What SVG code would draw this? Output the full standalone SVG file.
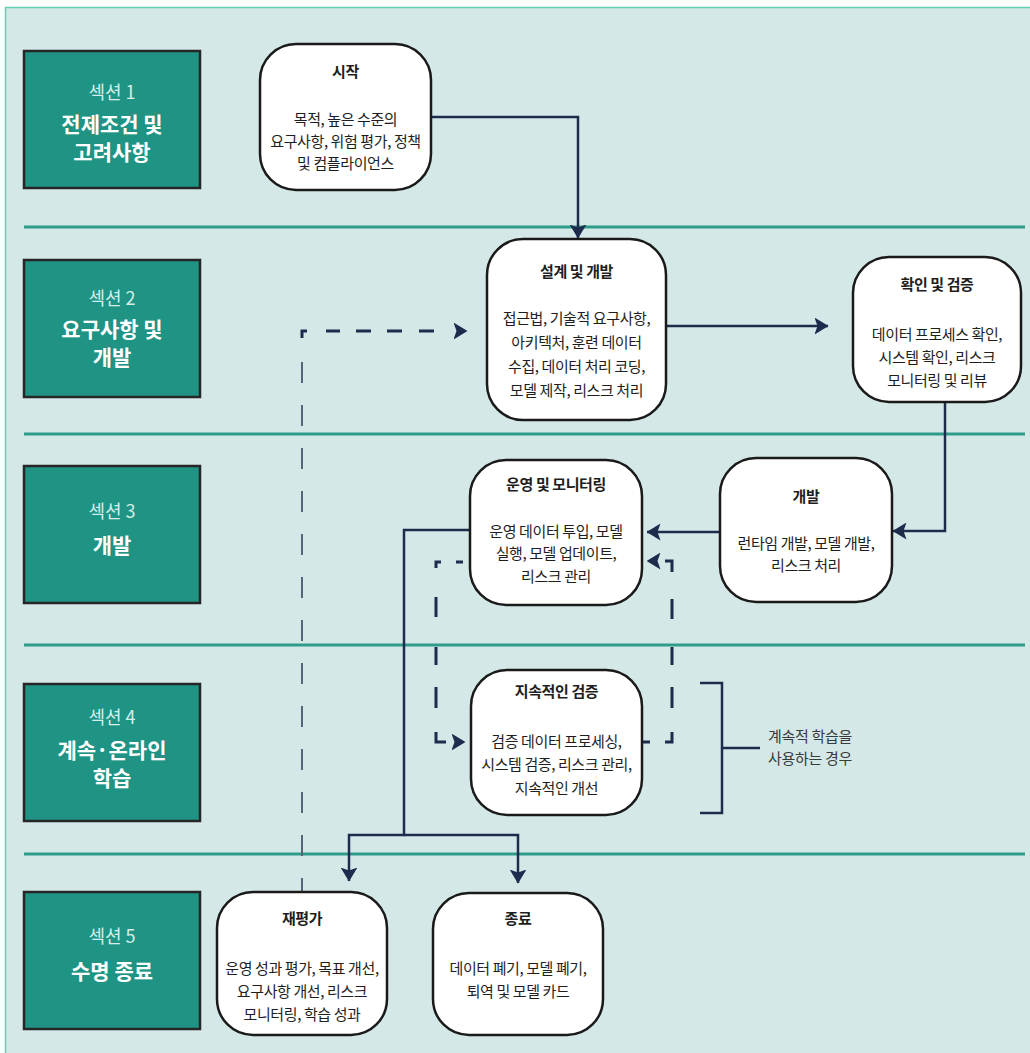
<svg xmlns="http://www.w3.org/2000/svg" width="1030" height="1053" viewBox="0 0 1030 1053">
<style>
.bg{fill:#d4e9e7;stroke:#63cfb3;stroke-width:1.5}
.sep{stroke:#2f9b8b;stroke-width:3;fill:none}
.sec{fill:#1f9484;stroke:#262626;stroke-width:2.5}
.slabel{font-family:"Noto Sans CJK KR","Noto Sans",sans-serif;font-size:18px;fill:#d3efe8;text-anchor:middle;dominant-baseline:central}
.stitle{font-family:"Noto Sans CJK KR","Noto Sans",sans-serif;font-size:21px;font-weight:bold;fill:#ffffff;text-anchor:middle;dominant-baseline:central}
.node{fill:#ffffff;stroke:#1a1a1a;stroke-width:2.5}
.nt{font-family:"Noto Sans CJK KR","Noto Sans",sans-serif;font-size:15px;font-weight:bold;fill:#1e1e1e;text-anchor:middle;dominant-baseline:central;letter-spacing:-0.4px}
.nb{font-family:"Noto Sans CJK KR","Noto Sans",sans-serif;font-size:15px;fill:#1e1e1e;text-anchor:middle;dominant-baseline:central;letter-spacing:-0.4px}
.note{font-family:"Noto Sans CJK KR","Noto Sans",sans-serif;font-size:15px;fill:#3a3a3a;text-anchor:middle;dominant-baseline:central;letter-spacing:-0.3px}
.conn{fill:none;stroke:#1e2b4d;stroke-width:2.5}
.dash{fill:none;stroke:#1e2b4d;stroke-width:3}
.gdash{fill:none;stroke:#55667a;stroke-width:2;stroke-dasharray:21 22}
</style>
<defs>
<marker id="arr" markerUnits="userSpaceOnUse" markerWidth="14" markerHeight="17" viewBox="0 0 14 17" refX="13.5" refY="8.5" orient="auto">
<path d="M0,0 L14,8.5 L0,17 L3,8.5 z" fill="#1e2b4d"/>
</marker>
</defs>
<rect class="bg" x="5.5" y="7.5" width="1030" height="1050"/>
<g id="separators">
<line class="sep" x1="24" y1="227" x2="1025" y2="227"/>
<line class="sep" x1="24" y1="434" x2="1025" y2="434"/>
<line class="sep" x1="24" y1="645" x2="1025" y2="645"/>
<line class="sep" x1="24" y1="854" x2="1025" y2="854"/>
</g>
<g id="section1">
<rect class="sec" x="24" y="51" width="176" height="137"/>
<text class="slabel" x="112" y="91">섹션 1</text>
<text class="stitle" x="112" y="123">전제조건 및</text>
<text class="stitle" x="112" y="151">고려사항</text>
</g>
<g id="section2">
<rect class="sec" x="24" y="260" width="176" height="137"/>
<text class="slabel" x="112" y="297">섹션 2</text>
<text class="stitle" x="112" y="328">요구사항 및</text>
<text class="stitle" x="112" y="356">개발</text>
</g>
<g id="section3">
<rect class="sec" x="24" y="466" width="176" height="137"/>
<text class="slabel" x="112" y="510">섹션 3</text>
<text class="stitle" x="112" y="544">개발</text>
</g>
<g id="section4">
<rect class="sec" x="24" y="684" width="176" height="137"/>
<text class="slabel" x="112" y="716">섹션 4</text>
<text class="stitle" x="112" y="749">계속·온라인</text>
<text class="stitle" x="112" y="777">학습</text>
</g>
<g id="section5">
<rect class="sec" x="24" y="892" width="176" height="137"/>
<text class="slabel" x="112" y="935">섹션 5</text>
<text class="stitle" x="112" y="970">수명 종료</text>
</g>
<g id="connectors">
<path class="conn" d="M431,117 H578 V238" marker-end="url(#arr)"/>
<path class="conn" d="M666,326 H828" marker-end="url(#arr)"/>
<path class="conn" d="M945,402 V531 H893" marker-end="url(#arr)"/>
<path class="conn" d="M720,532 H647" marker-end="url(#arr)"/>
<path class="conn" d="M470,530 H404 V835 H349 V881" marker-end="url(#arr)"/>
<path class="conn" d="M404,835 H518 V883" marker-end="url(#arr)"/>
<path class="gdash" d="M302,362 V893"/>
<path class="dash" d="M302,338 V331 H467" stroke-dasharray="12 19 14 16 15 16 15 17 15 60" marker-end="url(#arr)"/>
<path class="dash" d="M463,562 H436 V742 H465" stroke-dasharray="7 15 11 29 20 30 18 22 21 24 20 40" marker-end="url(#arr)"/>
<path class="dash" d="M642,742 H672 V561 H647" stroke-dasharray="8 15 17 24 21 22 18 28 20 27 18 40" marker-end="url(#arr)"/>
<path class="conn" d="M700,683 H722 V813 H700 M722,748 H760" stroke="#2b3a5a" stroke-width="3"/>
</g>
<g id="note">
<text class="note" x="810" y="735">계속적 학습을</text>
<text class="note" x="810" y="757">사용하는 경우</text>
</g>
<g id="start">
<rect class="node" x="260" y="44" width="171" height="146" rx="36"/>
<text class="nt" x="345.5" y="70">시작</text>
<text class="nb" x="345.5" y="118">목적, 높은 수준의</text>
<text class="nb" x="345.5" y="140">요구사항, 위험 평가, 정책</text>
<text class="nb" x="345.5" y="162">및 컴플라이언스</text>
</g>
<g id="design">
<rect class="node" x="487" y="239" width="179" height="181" rx="36"/>
<text class="nt" x="576.5" y="270">설계 및 개발</text>
<text class="nb" x="576.5" y="317">접근법, 기술적 요구사항,</text>
<text class="nb" x="576.5" y="341">아키텍처, 훈련 데이터</text>
<text class="nb" x="576.5" y="365">수집, 데이터 처리 코딩,</text>
<text class="nb" x="576.5" y="389">모델 제작, 리스크 처리</text>
</g>
<g id="verify">
<rect class="node" x="853" y="257" width="168" height="145" rx="36"/>
<text class="nt" x="937" y="283">확인 및 검증</text>
<text class="nb" x="937" y="333">데이터 프로세스 확인,</text>
<text class="nb" x="937" y="356">시스템 확인, 리스크</text>
<text class="nb" x="937" y="379">모니터링 및 리뷰</text>
</g>
<g id="deploy">
<rect class="node" x="720" y="458" width="172" height="144" rx="36"/>
<text class="nt" x="806" y="495">개발</text>
<text class="nb" x="806" y="542">런타임 개발, 모델 개발,</text>
<text class="nb" x="806" y="564">리스크 처리</text>
</g>
<g id="operate">
<rect class="node" x="470" y="460" width="172" height="145" rx="36"/>
<text class="nt" x="556" y="483">운영 및 모니터링</text>
<text class="nb" x="556" y="530">운영 데이터 투입, 모델</text>
<text class="nb" x="556" y="552">실행, 모델 업데이트,</text>
<text class="nb" x="556" y="575">리스크 관리</text>
</g>
<g id="continuous">
<rect class="node" x="471" y="670" width="171" height="145" rx="36"/>
<text class="nt" x="556.5" y="690">지속적인 검증</text>
<text class="nb" x="556.5" y="740">검증 데이터 프로세싱,</text>
<text class="nb" x="556.5" y="763">시스템 검증, 리스크 관리,</text>
<text class="nb" x="556.5" y="787">지속적인 개선</text>
</g>
<g id="reeval">
<rect class="node" x="217" y="892" width="170" height="143" rx="36"/>
<text class="nt" x="302" y="917">재평가</text>
<text class="nb" x="302" y="967">운영 성과 평가, 목표 개선,</text>
<text class="nb" x="302" y="990">요구사항 개선, 리스크</text>
<text class="nb" x="302" y="1013">모니터링, 학습 성과</text>
</g>
<g id="end">
<rect class="node" x="433" y="893" width="170" height="142" rx="36"/>
<text class="nt" x="518" y="917">종료</text>
<text class="nb" x="518" y="967">데이터 폐기, 모델 폐기,</text>
<text class="nb" x="518" y="990">퇴역 및 모델 카드</text>
</g>
</svg>
